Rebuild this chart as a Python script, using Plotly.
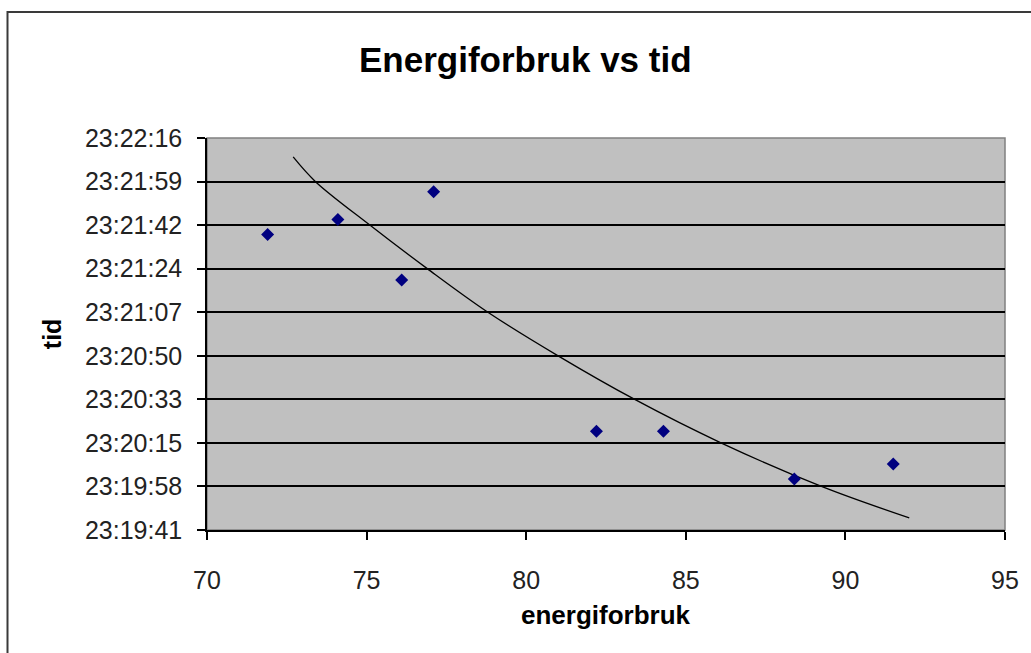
import plotly.graph_objects as go

# Measured points: energy use vs. clock time
energiforbruk = [71.9, 74.1, 76.1, 77.1, 82.2, 84.3, 88.4, 91.5]
tid = ["23:21:38", "23:21:44", "23:21:20", "23:21:55",
       "23:20:20", "23:20:20", "23:20:01", "23:20:07"]

# Trend curve through the cloud of points
trend_energiforbruk = [72.7, 73.4, 75.1, 76.9, 78.8, 81.0, 83.4, 86.1, 89.25, 92.0]
trend_tid = ["23:22:08.8", "23:21:59.0", "23:21:41.8", "23:21:24.5", "23:21:07.2",
             "23:20:49.9", "23:20:32.6", "23:20:15.4", "23:19:58.1", "23:19:45.6"]

# Axis ticks (time axis is stored as fraction of a day)
y_tickvals = [0.9720, 0.9722, 0.9724, 0.9726, 0.9728,
              0.9730, 0.9732, 0.9734, 0.9736, 0.9738]
y_ticktext = ["23:19:41", "23:19:58", "23:20:15", "23:20:33", "23:20:50",
              "23:21:07", "23:21:24", "23:21:42", "23:21:59", "23:22:16"]
x_tickvals = [70, 75, 80, 85, 90, 95]


def day_fraction(hms):
    h, m, s = hms.split(":")
    return (int(h) * 3600 + int(m) * 60 + float(s)) / 86400.0


FONT = "Liberation Sans, Arial, sans-serif"

fig = go.Figure()

fig.add_trace(go.Scatter(
    x=trend_energiforbruk,
    y=[day_fraction(t) for t in trend_tid],
    mode="lines",
    line=dict(color="#000000", width=1.3, shape="spline"),
    hoverinfo="skip",
    showlegend=False,
))

fig.add_trace(go.Scatter(
    x=energiforbruk,
    y=[day_fraction(t) for t in tid],
    mode="markers",
    marker=dict(symbol="diamond", size=10, color="#000080"),
    text=tid,
    hovertemplate="%{x}<br>%{text}<extra></extra>",
    showlegend=False,
))

fig.update_layout(
    width=1031,
    height=653,
    autosize=False,
    margin=dict(l=207, r=24, t=138, b=123),
    paper_bgcolor="#ffffff",
    plot_bgcolor="#c0c0c0",
    font=dict(family=FONT, color="#000000"),
    xaxis=dict(
        range=[70, 95],
        tickvals=x_tickvals,
        ticktext=[str(v) for v in x_tickvals],
        showgrid=False,
        zeroline=False,
        showline=True,
        linecolor="#000000",
        linewidth=1.5,
        ticks="outside",
        ticklen=8,
        tickwidth=1.5,
        tickcolor="#000000",
        tickfont=dict(size=25, family=FONT, color="#222222"),
        ticklabelstandoff=19,
    ),
    yaxis=dict(
        range=[y_tickvals[0], y_tickvals[-1]],
        tickvals=y_tickvals,
        ticktext=y_ticktext,
        showgrid=True,
        gridcolor="#000000",
        gridwidth=1.5,
        zeroline=False,
        showline=True,
        linecolor="#000000",
        linewidth=1.5,
        ticks="outside",
        ticklen=8,
        tickwidth=1.5,
        tickcolor="#000000",
        tickfont=dict(size=25, family=FONT, color="#222222"),
        ticklabelstandoff=10,
    ),
    shapes=[
        # outer chart frame (left and top edges run off the page on the other sides)
        dict(type="path", xref="paper", yref="paper",
             path="M -0.25,-0.4 L -0.25,1.3214 L 1.1,1.3214",
             line=dict(color="#3a3a3a", width=2), layer="below"),
        # plot area border
        dict(type="rect", xref="paper", yref="paper",
             x0=0, x1=1, y0=0, y1=1,
             line=dict(color="#808080", width=1.5), fillcolor="rgba(0,0,0,0)",
             layer="below"),
    ],
    annotations=[
        dict(text="<b>Energiforbruk vs tid</b>", xref="paper", yref="paper",
             x=0.399, y=1.199, xanchor="center", yanchor="middle",
             showarrow=False, font=dict(size=35, family=FONT, color="#000000")),
        dict(text="<b>energiforbruk</b>", xref="paper", yref="paper",
             x=0.5, y=-0.217, xanchor="center", yanchor="middle",
             showarrow=False, font=dict(size=26, family=FONT, color="#000000")),
        dict(text="<b>tid</b>", xref="paper", yref="paper",
             x=-0.194, y=0.5, xanchor="center", yanchor="middle", textangle=-90,
             showarrow=False, font=dict(size=25, family=FONT, color="#000000")),
    ],
)

fig.write_html("out.html")
